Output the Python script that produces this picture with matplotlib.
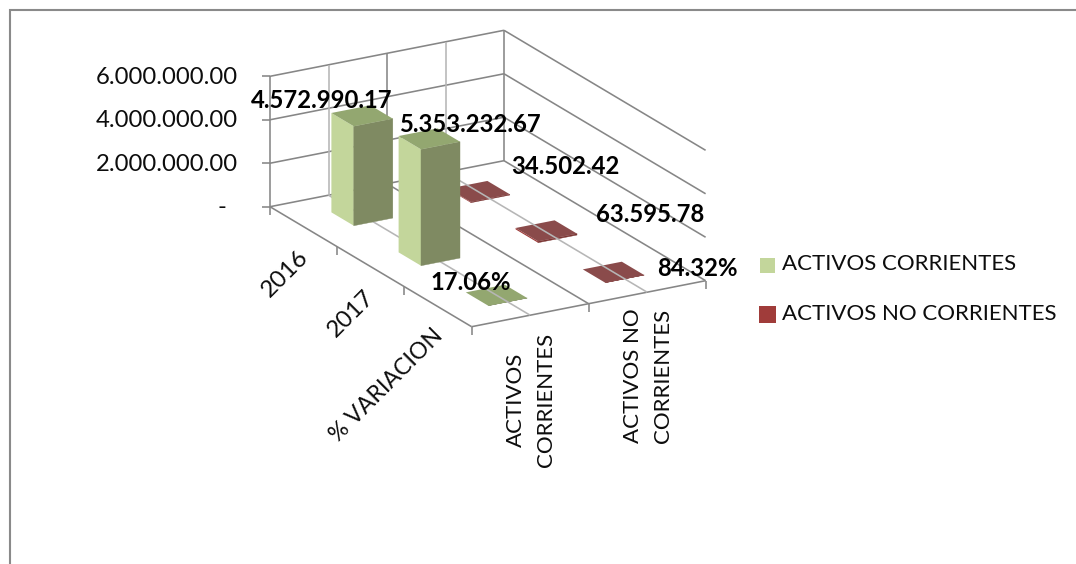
import matplotlib
matplotlib.use("Agg")
import matplotlib.pyplot as plt
from matplotlib.patches import Polygon, Rectangle

plt.rcParams['font.family'] = ['Lato', 'DejaVu Sans']

# ---- data ----
series_names = ["ACTIVOS CORRIENTES", "ACTIVOS NO CORRIENTES"]
row_names = ["2016", "2017", "% VARIACION"]
activos_corrientes = [4572990.17, 5353232.67, 0.1706]
activos_no_corrientes = [34502.42, 63595.78, 0.8432]
label_corrientes = ["4.572.990.17", "5.353.232.67", "17.06%"]
label_no_corrientes = ["34.502.42", "63.595.78", "84.32%"]
value_ticks = [0, 2000000, 4000000, 6000000]
value_tick_labels = ["-", "2.000.000.00", "4.000.000.00", "6.000.000.00"]
column_labels = ["ACTIVOS\nCORRIENTES", "ACTIVOS NO\nCORRIENTES"]

# ---- oblique projection of the 3-D box onto the pixel canvas ----
ORIGIN = (270.0, 206.7)
CAT_VEC = (117.0, -23.0)
ROW_VEC = (67.2, 40.0)
PX_PER_VALUE = 130.4 / 6000000


def proj(cat, row, val=0.0):
    return (ORIGIN[0] + cat * CAT_VEC[0] + row * ROW_VEC[0],
            ORIGIN[1] + cat * CAT_VEC[1] + row * ROW_VEC[1] - val * PX_PER_VALUE)


fig = plt.figure(figsize=(10.76, 5.64), dpi=100)
ax = fig.add_axes([0, 0, 1, 1])
ax.set_xlim(0, 1076)
ax.set_ylim(564, 0)
ax.axis("off")

DARK = "#868686"
LIGHT = "#B6B6B6"
LW = 1.15
TXT = "#0d0d0d"
FS = 17.2
LEG_FS = 16.05


def seg(p, q, color=DARK, lw=LW, z=2):
    ax.plot([p[0], q[0]], [p[1], q[1]], color=color, lw=lw, zorder=z,
            solid_capstyle="butt")


# chart frame (open at right and bottom, as cropped)
ax.plot([9.5, 9.5, 1076], [564, 10, 10], color="#8A8A8A", lw=1.5, zorder=1,
        solid_joinstyle="miter")

n_cat, n_row = len(column_labels), len(row_names)
vmax = value_ticks[-1]

# walls: value gridlines on both back walls
for v in value_ticks:
    seg(proj(0, 0, v), proj(n_cat, 0, v))
    seg(proj(n_cat, 0, v), proj(n_cat, n_row, v))
    p = proj(0, 0, v)
    seg((p[0] - 8, p[1]), p)

# vertical wall lines and floor lines
seg((ORIGIN[0], proj(0, 0, vmax)[1]), (ORIGIN[0], ORIGIN[1] + 8))
seg(proj(n_cat, 0, 0), proj(n_cat, 0, vmax))
for c in range(1, n_cat):
    seg(proj(c, 0, 0), proj(c, 0, vmax))
    seg(proj(c, 0, 0), proj(c, n_row, 0))
for c in range(n_cat):
    seg(proj(c + .5, 0, 0), proj(c + .5, 0, vmax), color=LIGHT)

# floor edges + ticks
seg(proj(0, 0), proj(0, n_row))
seg(proj(0, n_row), proj(n_cat, n_row))
for r in range(1, n_row + 1):
    p = proj(0, r)
    seg(p, (p[0], p[1] + 8))
for c in range(1, n_cat + 1):
    p = proj(c, n_row)
    seg(p, (p[0], p[1] + 8))

# bars
W = 1 / 3
STYLES = [("#C3D69B", "#7F8A62", "#93A770"), ("#A03C3A", "#7B3533", "#8A4B4B")]


def bar(cat_i, row_i, val, style):
    left_c, right_c, top_c = style
    c0, c1 = cat_i + .5 - W / 2, cat_i + .5 + W / 2
    r0, r1 = row_i + .5 - W / 2, row_i + .5 + W / 2
    z = 5 + row_i if val > 1e6 else 2.5
    ax.add_patch(Polygon([proj(c0, r0), proj(c0, r1), proj(c0, r1, val), proj(c0, r0, val)],
                         fc=left_c, ec="none", zorder=z))
    ax.add_patch(Polygon([proj(c0, r1), proj(c1, r1), proj(c1, r1, val), proj(c0, r1, val)],
                         fc=right_c, ec=right_c, lw=.3, zorder=z))
    ax.add_patch(Polygon([proj(c0, r0, val), proj(c0, r1, val), proj(c1, r1, val), proj(c1, r0, val)],
                         fc=top_c, ec="none", zorder=z))


for r, v in enumerate(activos_corrientes):
    bar(0, r, v, STYLES[0])
for r, v in enumerate(activos_no_corrientes):
    bar(1, r, v, STYLES[1])

# light floor lines through category centres (above the flat bars, below the tall ones)
for c in range(n_cat):
    seg(proj(c + .5, 0), proj(c + .5, n_row), color=LIGHT, z=3)

# value tick labels
for v, s in zip(value_ticks, value_tick_labels):
    y = proj(0, 0, v)[1] + 1
    ax.text(222 if v == 0 else 238, y, s, ha="center" if v == 0 else "right",
            va="center", fontsize=FS, color=TXT, zorder=10)

# row labels (rotated)
for s, xy, fs in zip(row_names, [(285, 274), (351, 314), (386, 385)], [17.4, 17.4, 16.6]):
    ax.text(xy[0], xy[1], s, rotation=45, ha="center", va="center",
            rotation_mode="anchor", fontsize=fs, color=TXT, zorder=10)

# category labels (vertical)
for s, xy in zip(column_labels, [(531, 400), (648, 376)]):
    ax.text(xy[0], xy[1], s, rotation=90, ha="center", va="center", multialignment="center",
            fontsize=FS - 1.2, color=TXT, linespacing=1.6, zorder=10)

# data labels
for s, xy in zip(label_corrientes, [(322, 100), (470, 125), (471, 282)]):
    ax.text(xy[0], xy[1], s, ha="center", va="center", fontsize=FS, fontweight="bold",
            color="black", zorder=11)
for s, xy in zip(label_no_corrientes, [(565, 167), (650, 215), (697, 268)]):
    ax.text(xy[0], xy[1], s, ha="center", va="center", fontsize=FS, fontweight="bold",
            color="black", zorder=11)

# legend
ax.add_patch(Rectangle((760, 258), 15, 15, fc="#C3D69B", ec="none", zorder=10))
ax.add_patch(Rectangle((759, 306), 17, 17, fc="#A03C3A", ec="none", zorder=10))
ax.text(782, 264.5, series_names[0], ha="left", va="center", fontsize=LEG_FS, color=TXT, zorder=10)
ax.text(782, 313.5, series_names[1], ha="left", va="center", fontsize=LEG_FS, color=TXT, zorder=10)

fig.savefig("out.png", dpi=100, facecolor="white")
